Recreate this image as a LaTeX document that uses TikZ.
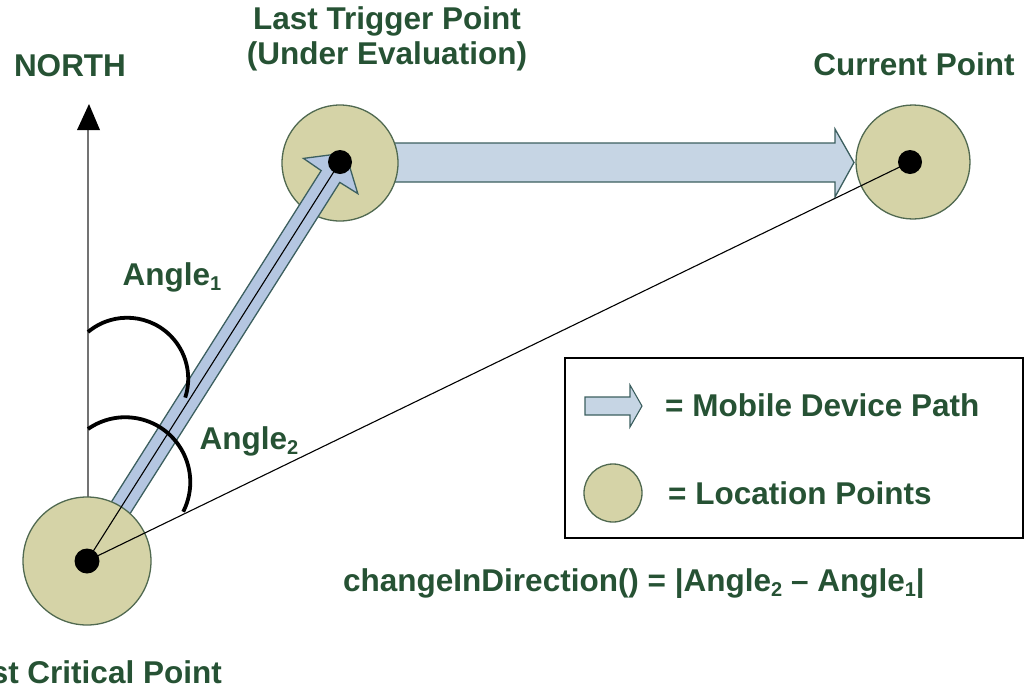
\documentclass[tikz,border=0pt]{standalone}
\usepackage{fontspec}
\setmainfont{Liberation Sans}
\usetikzlibrary{calc}
\definecolor{tgreen}{RGB}{38,82,52}
\definecolor{circfill}{RGB}{213,211,167}
\definecolor{circline}{RGB}{80,105,80}
\definecolor{harrow}{RGB}{198,213,228}
\definecolor{darrow}{RGB}{180,198,225}
\definecolor{arrline}{RGB}{60,95,95}
\newcommand\lowsub[1]{\raisebox{-0.3ex}{\fontsize{20}{20}\selectfont #1}}
\begin{document}
\begin{tikzpicture}[x=1pt,y=-1pt,
  lbl/.style={text=tgreen,font=\fontsize{31.5}{35}\selectfont\bfseries,inner sep=0pt},
  loc/.style={circle,draw=circline,fill=circfill,line width=1.3pt,inner sep=0pt},
  dot/.style={circle,fill=black,inner sep=0pt,minimum size=25pt},
  pathbox/.style={draw=arrline,line width=1.3pt,line join=miter},
  thinline/.style={draw=black,line width=1.1pt},
  anglearc/.style={draw=black,line width=3.8pt}]
\useasboundingbox (0,0) rectangle (1026,689);

% north arrow
\coordinate (nbase) at (88,561);
\coordinate (ntop) at (88,129);
\draw[gray!90!black,line width=2pt] (nbase) -- (ntop);
\fill[black] (89,104) -- (77,130) -- (100,130) -- cycle;

% horizontal path arrow
\draw[pathbox,fill=harrow] (340,143) -- (835,143) -- (835,129) -- (854,162.5) -- (835,197) -- (835,182) -- (340,182) -- cycle;

% circles
\node[loc,minimum size=116pt] (trig) at (340,163) {};
\node[loc,minimum size=114pt] (cur) at (913,162) {};

% diagonal path arrow
\draw[pathbox,fill=darrow] (77.7,555.1) -- (321.2,170.6) -- (303.5,158.4) -- (345.5,152.9) -- (357.8,193.6) -- (339.8,182.4) -- (96.3,566.9) -- cycle;

\node[loc,minimum size=128pt] (crit) at (87,561) {};

% dots
\node[dot] (cd) at (87,561) {};
\node[dot,minimum size=24pt] (td) at (340,162) {};
\node[dot,minimum size=24pt] (ud) at (910,162) {};

% thin lines
\draw[thinline] (cd.center) -- (td.center);
\draw[thinline] (cd.center) -- (ud.center);

% angle arcs
\draw[anglearc] (88,332) arc[start angle=-130,end angle=18,radius=61];
\draw[anglearc] (88,429) arc[start angle=-125,end angle=27,radius=65];

% labels
\node[lbl] (north) at (70,66) {NORTH};
\node[lbl,align=center] (lasttrig) at (387,39) {Last Trigger Point\\(Under Evaluation)};
\node[lbl] (curlbl) at (914,64) {Current Point};
\node[lbl,anchor=east] (critlbl) at (222,672) {Last Critical Point};
\node[lbl] (a1) at (172,277) {Angle\lowsub{1}};
\node[lbl] (a2) at (249,441) {Angle\lowsub{2}};
\node[lbl,anchor=west] (formula) at (343,584) {changeInDirection() = |Angle\lowsub{2} -- Angle\lowsub{1}|};

% legend
\node[draw=black,line width=1.5pt,minimum width=458pt,minimum height=180pt,inner sep=0pt] (legend) at (794,448) {};
\draw[pathbox,fill=harrow,line width=1.1pt] (585,397) -- (630,397) -- (630,385) -- (642,406) -- (630,427) -- (630,415) -- (585,415) -- cycle;
\node[loc,minimum size=58pt] (legloc) at (613,493) {};
\node[lbl,anchor=west] (legpath) at (665,405) {= Mobile Device Path};
\node[lbl,anchor=west] (legpts) at (668,493) {= Location Points};
\end{tikzpicture}
\end{document}
